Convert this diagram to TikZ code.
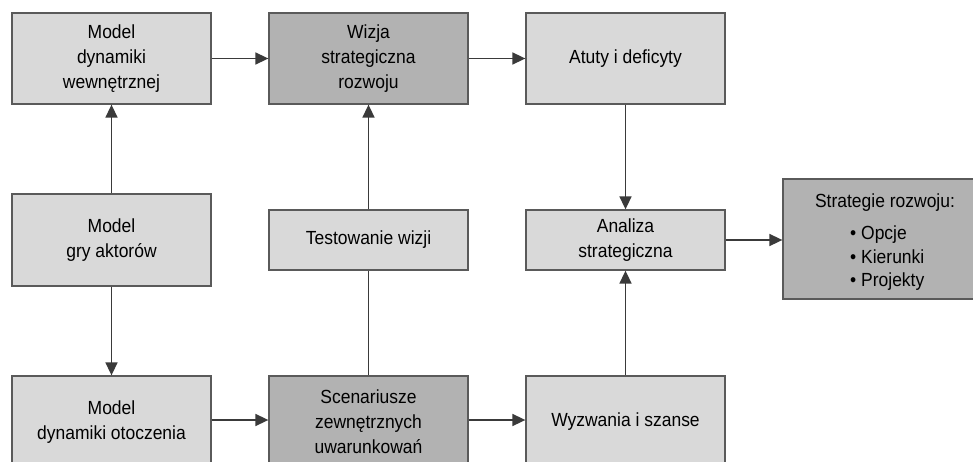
\documentclass[tikz,border=0pt]{standalone}
\usepackage{fontspec}
\setmainfont[FakeStretch=0.92]{Liberation Sans}
\usetikzlibrary{arrows.meta}
\definecolor{boxlight}{HTML}{D9D9D9}
\definecolor{boxdark}{HTML}{B2B2B2}
\definecolor{edgegray}{HTML}{5A5A5A}
\definecolor{linegray}{HTML}{3A3A3A}
\begin{document}
\begin{tikzpicture}[x=1pt,y=-1pt,
  box/.style={draw=edgegray, line width=1.3pt, fill=boxlight, minimum width=199pt,
    align=center, inner sep=2pt, font=\fontsize{19}{25}\selectfont},
  darkbox/.style={box, fill=boxdark},
  txt/.style={inner sep=0pt, font=\fontsize{19}{23.5}\selectfont},
  conn/.style={draw=linegray, line width=1.6pt},
  arr/.style={conn, -{Triangle[length=13pt,width=12pt]}}]
\clip (0,0) rectangle (973,462);
\fill[white] (0,0) rectangle (973,462);
% top row
\node[box, minimum height=91pt] (mdw) at (111.5,58.5) {Model\\dynamiki\\wewnętrznej};
\node[darkbox, minimum height=91pt] (wiz) at (368.5,58.5) {Wizja\\strategiczna\\rozwoju};
\node[box, minimum height=91pt] (atu) at (625.5,58.5) {Atuty i deficyty};
% middle row
\node[box, minimum height=92pt] (mga) at (111.5,240) {Model\\gry aktorów};
\node[box, minimum height=60pt] (tes) at (368.5,240) {Testowanie wizji};
\node[box, minimum height=60pt] (ana) at (625.5,240) {Analiza\\strategiczna};
\node[darkbox, minimum width=204pt, minimum height=120pt] (str) at (885,239) {};
\node[txt] (strh) at (885,203) {Strategie rozwoju:};
\node[txt, align=left, anchor=west] (strl) at (850,258.5) {•~Opcje\\•~Kierunki\\•~Projekty};
% bottom row
\node[box, minimum height=92pt] (mdo) at (111.5,422) {Model\\dynamiki otoczenia};
\node[darkbox, minimum height=92pt] (sce) at (368.5,422) {Scenariusze\\zewnętrznych\\uwarunkowań};
\node[box, minimum height=92pt] (wyz) at (625.5,422) {Wyzwania i szanse};
% connectors
\draw[arr] (mdw) -- (wiz);
\draw[arr] (wiz) -- (atu);
\draw[arr] (mga) -- (mdw);
\draw[arr] (mga) -- (mdo);
\draw[arr] (tes) -- (wiz);
\draw[conn] (sce) -- (tes);
\draw[arr] (atu) -- (ana);
\draw[arr] (wyz) -- (ana);
\draw[arr] (ana.east) -- (ana.east -| str.west);
\draw[arr] ([yshift=2pt]mdo.east) -- ([yshift=2pt]sce.west);
\draw[arr] ([yshift=2pt]sce.east) -- ([yshift=2pt]wyz.west);
\end{tikzpicture}
\end{document}
